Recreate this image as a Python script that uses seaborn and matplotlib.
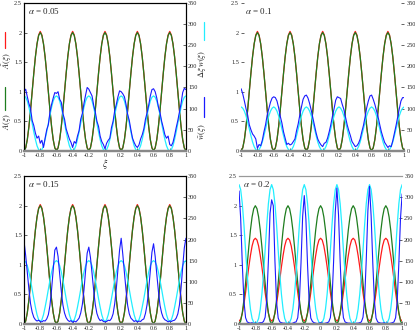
import numpy as np
import matplotlib
matplotlib.use("Agg")
import matplotlib.pyplot as plt
from matplotlib.lines import Line2D
import seaborn as sns

# xi grid, step 0.02 from -1 to 1
xi = np.round(np.arange(-1, 1.0001, 0.02), 2)

alphas = ["0.05", "0.1", "0.15", "0.2"]

# A(xi) exact, green (same in all four panels)
A_exact = [0, 0.05, 0.19, 0.41, 0.69, 1.0, 1.31, 1.59, 1.81, 1.95, 2.0, 1.95, 1.81, 1.59, 1.31, 1.0, 0.69, 0.41, 0.19, 0.05,
           0, 0.05, 0.19, 0.41, 0.69, 1.0, 1.31, 1.59, 1.81, 1.95, 2.0, 1.95, 1.81, 1.59, 1.31, 1.0, 0.69, 0.41, 0.19, 0.05,
           0, 0.05, 0.19, 0.41, 0.69, 1.0, 1.31, 1.59, 1.81, 1.95, 2.0, 1.95, 1.81, 1.59, 1.31, 1.0, 0.69, 0.41, 0.19, 0.05,
           0, 0.05, 0.19, 0.41, 0.69, 1.0, 1.31, 1.59, 1.81, 1.95, 2.0, 1.95, 1.81, 1.59, 1.31, 1.0, 0.69, 0.41, 0.19, 0.05,
           0, 0.05, 0.19, 0.41, 0.69, 1.0, 1.31, 1.59, 1.81, 1.95, 2.0, 1.95, 1.81, 1.59, 1.31, 1.0, 0.69, 0.41, 0.19, 0.05,
           0]

# A tilde, red (alpha = 0.05, 0.1, 0.15 : almost on top of A)
A_tilde_small = [0.01, 0.05, 0.19, 0.41, 0.69, 1.0, 1.31, 1.59, 1.81, 1.96, 2.02, 1.96, 1.81, 1.59, 1.31, 1.0, 0.69, 0.41, 0.19, 0.05,
                 0.01, 0.05, 0.19, 0.41, 0.69, 1.0, 1.31, 1.59, 1.81, 1.96, 2.02, 1.96, 1.81, 1.59, 1.31, 1.0, 0.69, 0.41, 0.19, 0.05,
                 0.01, 0.05, 0.19, 0.41, 0.69, 1.0, 1.31, 1.59, 1.81, 1.96, 2.02, 1.96, 1.81, 1.59, 1.31, 1.0, 0.69, 0.41, 0.19, 0.05,
                 0.01, 0.05, 0.19, 0.41, 0.69, 1.0, 1.31, 1.59, 1.81, 1.96, 2.02, 1.96, 1.81, 1.59, 1.31, 1.0, 0.69, 0.41, 0.19, 0.05,
                 0.01, 0.05, 0.19, 0.41, 0.69, 1.0, 1.31, 1.59, 1.81, 1.96, 2.02, 1.96, 1.81, 1.59, 1.31, 1.0, 0.69, 0.41, 0.19, 0.05,
                 0.01]

# A tilde, red, alpha = 0.2
A_tilde_02 = [0.05, 0.08, 0.18, 0.34, 0.53, 0.75, 0.97, 1.16, 1.32, 1.42, 1.45, 1.42, 1.32, 1.16, 0.97, 0.75, 0.53, 0.34, 0.18, 0.08,
              0.05, 0.08, 0.18, 0.34, 0.53, 0.75, 0.97, 1.16, 1.32, 1.42, 1.45, 1.42, 1.32, 1.16, 0.97, 0.75, 0.53, 0.34, 0.18, 0.08,
              0.05, 0.08, 0.18, 0.34, 0.53, 0.75, 0.97, 1.16, 1.32, 1.42, 1.45, 1.42, 1.32, 1.16, 0.97, 0.75, 0.53, 0.34, 0.18, 0.08,
              0.05, 0.08, 0.18, 0.34, 0.53, 0.75, 0.97, 1.16, 1.32, 1.42, 1.45, 1.42, 1.32, 1.16, 0.97, 0.75, 0.53, 0.34, 0.18, 0.08,
              0.05, 0.08, 0.18, 0.34, 0.53, 0.75, 0.97, 1.16, 1.32, 1.42, 1.45, 1.42, 1.32, 1.16, 0.97, 0.75, 0.53, 0.34, 0.18, 0.08,
              0.05]

# Delta_xi w(xi), cyan (right axis)
dw_005 = [130, 127, 118, 103, 85, 65, 45, 27, 12, 3, 0, 3, 12, 27, 45, 65, 85, 103, 118, 127,
          130, 127, 118, 103, 85, 65, 45, 27, 12, 3, 0, 3, 12, 27, 45, 65, 85, 103, 118, 127,
          130, 127, 118, 103, 85, 65, 45, 27, 12, 3, 0, 3, 12, 27, 45, 65, 85, 103, 118, 127,
          130, 127, 118, 103, 85, 65, 45, 27, 12, 3, 0, 3, 12, 27, 45, 65, 85, 103, 118, 127,
          130, 127, 118, 103, 85, 65, 45, 27, 12, 3, 0, 3, 12, 27, 45, 65, 85, 103, 118, 127,
          130]
dw_01 = [104, 101, 94, 83, 68, 52, 36, 21, 10, 3, 0, 3, 10, 21, 36, 52, 68, 83, 94, 101,
         104, 101, 94, 83, 68, 52, 36, 21, 10, 3, 0, 3, 10, 21, 36, 52, 68, 83, 94, 101,
         104, 101, 94, 83, 68, 52, 36, 21, 10, 3, 0, 3, 10, 21, 36, 52, 68, 83, 94, 101,
         104, 101, 94, 83, 68, 52, 36, 21, 10, 3, 0, 3, 10, 21, 36, 52, 68, 83, 94, 101,
         104, 101, 94, 83, 68, 52, 36, 21, 10, 3, 0, 3, 10, 21, 36, 52, 68, 83, 94, 101,
         104]
dw_015 = [150, 147, 138, 123, 104, 82, 60, 40, 22, 10, 6, 10, 22, 40, 60, 82, 104, 123, 138, 147,
          150, 147, 138, 123, 104, 82, 60, 40, 22, 10, 6, 10, 22, 40, 60, 82, 104, 123, 138, 147,
          150, 147, 138, 123, 104, 82, 60, 40, 22, 10, 6, 10, 22, 40, 60, 82, 104, 123, 138, 147,
          150, 147, 138, 123, 104, 82, 60, 40, 22, 10, 6, 10, 22, 40, 60, 82, 104, 123, 138, 147,
          150, 147, 138, 123, 104, 82, 60, 40, 22, 10, 6, 10, 22, 40, 60, 82, 104, 123, 138, 147,
          150]
dw_02 = [330, 318, 285, 235, 175, 118, 70, 35, 13, 4, 1, 4, 13, 35, 70, 118, 175, 235, 285, 318,
         330, 318, 285, 235, 175, 118, 70, 35, 13, 4, 1, 4, 13, 35, 70, 118, 175, 235, 285, 318,
         330, 318, 285, 235, 175, 118, 70, 35, 13, 4, 1, 4, 13, 35, 70, 118, 175, 235, 285, 318,
         330, 318, 285, 235, 175, 118, 70, 35, 13, 4, 1, 4, 13, 35, 70, 118, 175, 235, 285, 318,
         330, 318, 285, 235, 175, 118, 70, 35, 13, 4, 1, 4, 13, 35, 70, 118, 175, 235, 285, 318,
         330]

# w bar (sampled histogram), blue (right axis)
wbar_005 = [140, 146, 128, 112, 100, 72, 60, 42, 30, 35, 18, 25, 8, 30, 50, 62, 92, 110, 125, 138,
            136, 140, 122, 115, 88, 75, 52, 40, 28, 20, 8, 22, 18, 35, 48, 75, 88, 112, 132, 150,
            146, 138, 130, 108, 92, 70, 58, 35, 22, 15, 5, 18, 25, 30, 55, 70, 95, 110, 128, 142,
            140, 135, 128, 110, 86, 72, 50, 30, 20, 12, 8, 14, 28, 38, 52, 75, 90, 108, 130, 145,
            147, 140, 125, 104, 90, 70, 55, 38, 30, 35, 15, 12, 20, 36, 55, 72, 92, 112, 138, 148,
            145]
wbar_01 = [147, 135, 118, 100, 85, 62, 50, 40, 35, 28, 6, 15, 12, 25, 45, 62, 85, 100, 115, 125,
           128, 126, 118, 102, 82, 66, 45, 30, 15, 18, 14, 16, 22, 28, 48, 64, 85, 104, 122, 130,
           132, 125, 112, 96, 78, 60, 42, 28, 20, 14, 10, 18, 20, 30, 45, 62, 82, 100, 120, 128,
           126, 124, 110, 98, 80, 62, 48, 36, 22, 16, 10, 12, 18, 28, 45, 60, 80, 102, 118, 130,
           132, 122, 110, 95, 80, 62, 45, 32, 20, 14, 8, 12, 10, 24, 42, 60, 80, 100, 118, 126,
           126]
wbar_015 = [195, 162, 122, 82, 48, 28, 16, 10, 7, 9, 6, 5, 8, 7, 12, 22, 44, 82, 128, 175,
            182, 160, 118, 78, 45, 26, 15, 9, 6, 8, 4, 7, 5, 9, 14, 26, 46, 80, 126, 168,
            182, 158, 120, 80, 46, 25, 14, 8, 10, 6, 5, 6, 9, 8, 13, 24, 48, 84, 130, 175,
            203, 165, 122, 80, 44, 24, 14, 10, 6, 8, 5, 7, 6, 10, 12, 25, 46, 82, 126, 170,
            190, 160, 118, 78, 44, 26, 15, 10, 8, 5, 7, 6, 8, 9, 14, 24, 45, 85, 135, 180,
            203]
wbar_02 = [315, 250, 142, 55, 15, 5, 3, 2, 3, 1, 2, 1, 2, 3, 3, 6, 16, 58, 150, 262,
           294, 280, 150, 52, 14, 5, 3, 2, 2, 1, 1, 2, 1, 2, 4, 5, 15, 55, 145, 255,
           304, 248, 140, 52, 14, 6, 3, 2, 1, 2, 3, 2, 1, 2, 3, 5, 15, 56, 150, 265,
           322, 258, 148, 55, 15, 5, 3, 2, 2, 1, 1, 1, 2, 2, 3, 5, 16, 58, 152, 268,
           326, 255, 145, 54, 14, 5, 3, 2, 2, 3, 1, 2, 1, 2, 3, 5, 15, 55, 145, 250,
           308]

A_tilde = [A_tilde_small, A_tilde_small, A_tilde_small, A_tilde_02]
dw = [dw_005, dw_01, dw_015, dw_02]
wbar = [wbar_005, wbar_01, wbar_015, wbar_02]

xticks = [-1, -0.8, -0.6, -0.4, -0.2, 0, 0.2, 0.4, 0.6, 0.8, 1]
xticklabels = ["-1", "-0.8", "-0.6", "-0.4", "-0.2", "0", "0.2", "0.4", "0.6", "0.8", "1"]
yticks = [0, 0.5, 1, 1.5, 2, 2.5]
yticklabels = ["0", "0.5", "1", "1.5", "2", "2.5"]
y2ticks = [0, 50, 100, 150, 200, 250, 300, 350]

sns.set_theme(style="ticks")
plt.rcParams['font.family'] = ['Liberation Serif', 'DejaVu Serif']
plt.rcParams['mathtext.fontset'] = 'stix'

col_green = '#1e7d1e'
col_red = '#ff1a1a'
col_cyan = '#22eeff'
col_blue = '#1a1aff'

fig = plt.figure(figsize=(4.15, 3.33), dpi=100)
positions = [[0.058, 0.547, 0.390, 0.444],
             [0.581, 0.547, 0.393, 0.444],
             [0.058, 0.027, 0.390, 0.444],
             [0.576, 0.027, 0.393, 0.444]]
# which frame lines are drawn in each panel
frames = ['black', 'none', 'black', 'top']

for i in range(4):
    ax = fig.add_axes(positions[i])
    ax2 = ax.twinx()
    sns.lineplot(x=xi, y=A_tilde[i], ax=ax, color=col_red, lw=0.9)
    sns.lineplot(x=xi, y=A_exact, ax=ax, color=col_green, lw=0.9)
    sns.lineplot(x=xi, y=dw[i], ax=ax2, color=col_cyan, lw=0.9)
    sns.lineplot(x=xi, y=wbar[i], ax=ax2, color=col_blue, lw=0.8)

    ax.set_xlim(-1, 1)
    ax.set_ylim(0, 2.5)
    ax2.set_ylim(0, 350)
    ax.set_xticks(xticks)
    ax.set_xticklabels(xticklabels)
    ax.set_yticks(yticks)
    ax.set_yticklabels(yticklabels)
    ax2.set_yticks(y2ticks)
    ax2.set_yticklabels([str(v) for v in y2ticks])
    ax.set_xlabel('')
    ax.set_ylabel('')
    ax2.set_ylabel('')
    for a in (ax, ax2):
        a.tick_params(direction='in', length=2, width=0.5, labelsize=4.5, pad=1.5)
        for s in a.spines.values():
            s.set_linewidth(0.8)
            s.set_color('black')
        a.spines['bottom'].set_color('#888888')
        a.spines['bottom'].set_linewidth(1.6)
    if frames[i] == 'none':
        for a in (ax, ax2):
            for s in ('left', 'top', 'right'):
                a.spines[s].set_visible(False)
    elif frames[i] == 'top':
        for a in (ax, ax2):
            a.spines['left'].set_visible(False)
            a.spines['right'].set_visible(False)
            a.spines['top'].set_color('#999999')
    ax.text(0.025, 0.945, r'$\alpha$ = ' + alphas[i], transform=ax.transAxes,
            fontsize=6.5, ha='left', va='center')

# axis labels on the first panel only
fig.text(0.253, 0.507, r'$\xi$', fontsize=7, ha='center', va='center')
fig.text(0.018, 0.634, r'$A(\xi)$', fontsize=6, rotation=90, ha='center', va='center')
fig.text(0.018, 0.817, r'$\tilde{A}(\xi)$', fontsize=6, rotation=90, ha='center', va='center')
fig.add_artist(Line2D([0.013, 0.013], [0.670, 0.739], color=col_green, lw=0.9))
fig.add_artist(Line2D([0.013, 0.013], [0.856, 0.904], color=col_red, lw=0.9))
fig.text(0.487, 0.604, r'$\bar{w}(\xi)$', fontsize=6, rotation=90, ha='center', va='center')
fig.text(0.487, 0.808, r'$\Delta\xi\;w(\xi)$', fontsize=6, rotation=90, ha='center', va='center')
fig.add_artist(Line2D([0.491, 0.491], [0.649, 0.709], color=col_blue, lw=0.9))
fig.add_artist(Line2D([0.491, 0.491], [0.880, 0.934], color=col_cyan, lw=0.9))

fig.savefig('out.png', dpi=100)
